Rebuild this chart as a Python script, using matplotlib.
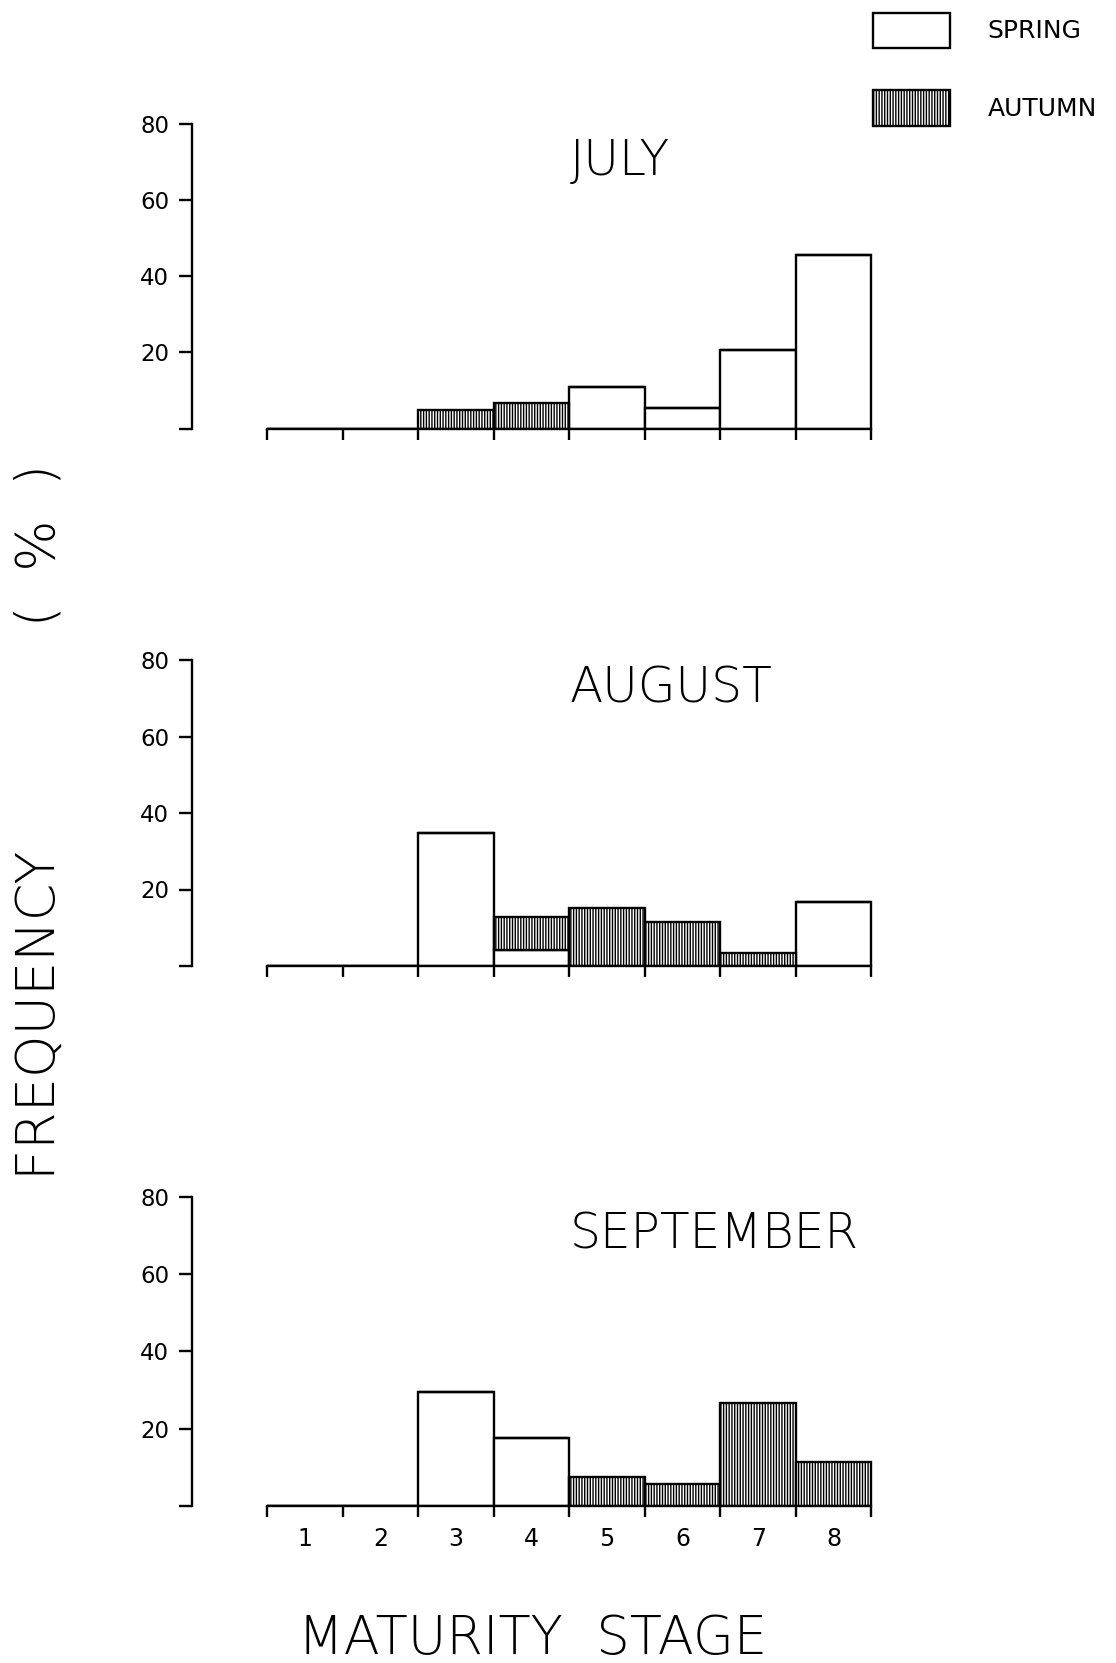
import numpy as np
import matplotlib
matplotlib.use("Agg")
import matplotlib.pyplot as plt
from matplotlib.patches import Patch

# maturity stages 1..8, frequency in %
stages = np.arange(1, 9)
months = ["JULY", "AUGUST", "SEPTEMBER"]

spring_july = [0, 0, 0, 0, 10.9, 5.4, 20.6, 45.5]
autumn_july = [0, 0, 4.8, 6.7, 0, 0, 0, 0]

spring_aug = [0, 0, 34.7, 4.3, 0, 0, 0, 16.8]
autumn_aug = [0, 0, 0, 8.5, 15.1, 11.5, 3.5, 0]

spring_sep = [0, 0, 29.4, 17.6, 0, 0, 0, 0]
autumn_sep = [0, 0, 0, 0, 7.5, 5.7, 26.6, 11.4]

spring = [spring_july, spring_aug, spring_sep]
autumn = [autumn_july, autumn_aug, autumn_sep]

y_ticks = [0, 20, 40, 60, 80]
y_ticklabels = ["", "20", "40", "60", "80"]

plt.rcParams['font.family'] = ['DejaVu Sans']
plt.rcParams['hatch.linewidth'] = 1.0
plt.rcParams['hatch.color'] = 'black'

W, H = 1116, 1663
fig = plt.figure(figsize=(W / 100, H / 100), dpi=100)

# axes boxes in pixels: (zero line y, 80 line y)
panels = [(428.6, 124.0), (966.0, 660.0), (1506.0, 1196.6)]
title_y = [66.6, 69.0, 66.5]
x_left = 192
x_width = 687

HATCH = '||||||'

for k, (y0, y80) in enumerate(panels):
    ax = fig.add_axes([x_left / W, 1 - y0 / H, x_width / W, (y0 - y80) / H])
    sp = np.array(spring[k])
    au = np.array(autumn[k])
    ax.bar(stages, sp, width=1.0, color='white', edgecolor='black', linewidth=1.7)
    ax.bar(stages, au, width=1.0, bottom=sp, color='white', edgecolor='black',
           linewidth=1.7, hatch=HATCH)

    ax.set_xlim(-0.5, 8.6)
    ax.set_ylim(0, 80)
    ax.spines['top'].set_visible(False)
    ax.spines['right'].set_visible(False)
    ax.spines['left'].set_bounds(0, 80)
    ax.spines['bottom'].set_bounds(0.5, 8.5)
    ax.spines['left'].set_linewidth(1.7)
    ax.spines['bottom'].set_linewidth(1.7)

    ax.set_yticks(y_ticks)
    ax.set_yticklabels(y_ticklabels)
    ax.tick_params(axis='y', direction='out', length=9.5, width=1.7, pad=7,
                   labelsize=16.5)

    ax.set_xticks(np.arange(0.5, 9.0, 1.0))
    ax.set_xticklabels([])
    ax.tick_params(axis='x', which='major', direction='out', length=8, width=1.7)
    ax.set_xticks(stages, minor=True)
    if k == 2:
        ax.set_xticklabels([str(s) for s in stages], minor=True)
    else:
        ax.set_xticklabels([], minor=True)
    ax.tick_params(axis='x', which='minor', length=0, pad=15, labelsize=17)

    ax.text(4.5, title_y[k], months[k], ha='left', va='baseline', fontsize=35,
            fontweight='light')

fig.text(40 / W, 1 - 822 / H, "FREQUENCY             (  %  )", rotation=90,
         ha='center', va='center', fontsize=39, fontweight='light')
fig.text(533 / W, 1 - 1639 / H, "MATURITY  STAGE", ha='center', va='center',
         fontsize=38, fontweight='light')

handles = [Patch(facecolor='white', edgecolor='black', linewidth=1.7, label='SPRING'),
           Patch(facecolor='white', edgecolor='black', linewidth=1.7, hatch=HATCH,
                 label='AUTUMN')]
fig.legend(handles=handles, loc='upper left', bbox_to_anchor=(873 / W, 1 - 12.5 / H),
           frameon=False, fontsize=18, borderpad=0, borderaxespad=0,
           handlelength=3.08, handleheight=1.8, labelspacing=1.7,
           handletextpad=1.5)

fig.savefig("out.png", dpi=100)
